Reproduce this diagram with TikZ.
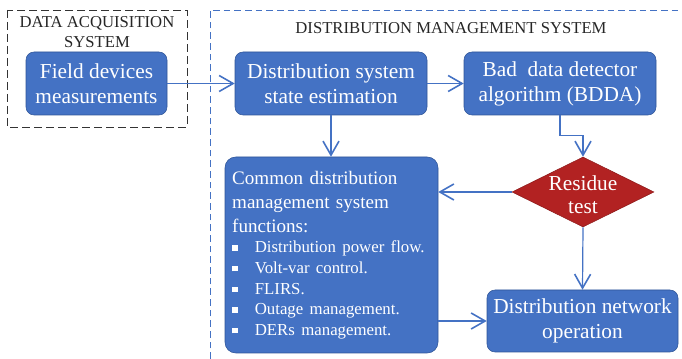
\documentclass[tikz,border=0pt]{standalone}
\usepackage{fontspec}
\setmainfont{Liberation Serif}
\usetikzlibrary{arrows.meta,shapes.geometric}
\definecolor{boxblue}{RGB}{68,114,196}
\definecolor{boxedge}{RGB}{47,85,151}
\definecolor{linkblue}{RGB}{68,114,196}
\definecolor{testred}{RGB}{178,34,34}
\newcommand{\dmsitem}[1]{\makebox[17pt][l]{\rule[1.5pt]{4pt}{4pt}}#1\par}

\begin{document}
\begin{tikzpicture}[x=0.75pt,y=-0.75pt,>={Straight Barb[length=10.5pt,width=12pt,line width=1.2pt]},
    block/.style={draw=boxedge,fill=boxblue,rounded corners=6pt,text=white,align=center,
      minimum width=144pt,minimum height=47.25pt,inner sep=2pt,font=\fontsize{16}{18.75}\selectfont},
    test/.style={diamond,draw=testred!80!black,fill=testred,minimum width=106.5pt,minimum height=52.5pt,inner sep=0pt},
    link/.style={->,draw=linkblue,line width=0.9pt},
    title/.style={text=black!85,align=center,font=\fontsize{12.5}{15}\selectfont}]
    \useasboundingbox (0,0) rectangle (682,359);
    % system frames
    \draw[black!80,dash pattern=on 6pt off 3pt] (7,10) rectangle (187,127);
    \draw[linkblue,dash pattern=on 5pt off 3pt] (210,359) -- (210,10) -- (682,10);
    \node[title] (acqtitle) at (97,32) {DATA ACQUISITION\\SYSTEM};
    \node[title] (dmstitle) at (451,28) {DISTRIBUTION MANAGEMENT SYSTEM};
    % blocks
    \node[block,minimum width=105.75pt] (field) at (96.5,83.5) {Field devices\\measurements};
    \node[block] (dsse) at (331,83.5) {Distribution system\\state estimation};
    \node[block] (bdda) at (560,83.5) {Bad\ \ data detector\\algorithm (BDDA)};
    \node[block,minimum width=159.75pt,minimum height=147pt,text width=149pt,inner xsep=5.25pt,
      align=left,rounded corners=8pt,font=\fontsize{14.3}{18}\selectfont] (common) at (331.5,255) {%
      Common distribution\\ management system\\ functions:\par
      {\fontsize{12.6}{15.5}\selectfont
      \dmsitem{Distribution power flow.}
      \dmsitem{Volt-var control.}
      \dmsitem{FLIRS.}
      \dmsitem{Outage management.}
      \dmsitem{DERs management.}}};
    \node[test] (resid) at (583,192) {};
    \node[text=white,align=center,font=\fontsize{16}{17}\selectfont] (residtxt) at (583,195) {Residue\\test};
    \node[block,minimum width=143.25pt,minimum height=46.5pt] (network) at (582.5,321) {Distribution network\\operation};
    % connectors
    \draw[link] (field) -- (dsse);
    \draw[link] (dsse) -- (bdda);
    \draw[link] (dsse.south) -- (dsse.south |- common.north);
    \draw[link] (bdda.south) -- ++(0,20) -| (resid.north);
    \draw[link] (resid.west) -- (resid.west -| common.east);
    \draw[link] (resid.south) -- (network.north);
    \draw[link] (common.east |- network.west) -- (network.west);
\end{tikzpicture}
\end{document}
